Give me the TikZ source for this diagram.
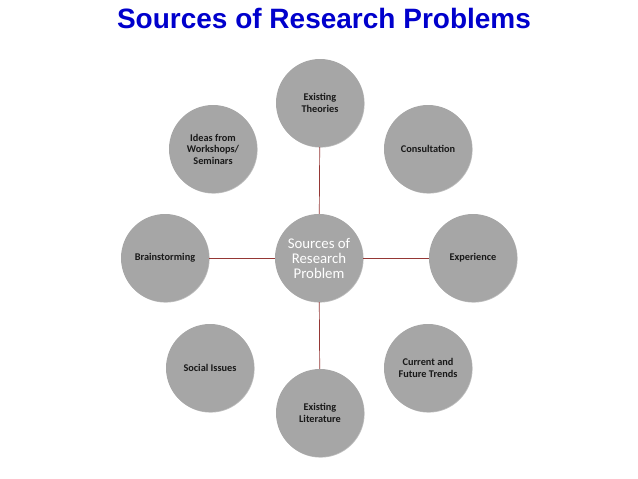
\documentclass[tikz,border=0pt]{standalone}
\usepackage{fontspec}
\setmainfont{Carlito}
\newfontfamily\titlefont{Liberation Sans}
\usetikzlibrary{shadows}
\definecolor{titleblue}{RGB}{0,0,204}
\definecolor{circgray}{RGB}{166,166,166}
\definecolor{linkred}{RGB}{149,55,53}
\definecolor{labeltext}{RGB}{25,25,25}
\tikzset{
  outer/.style={circle, fill=circgray, minimum size=88pt, inner sep=0pt, align=center,
    font=\fontsize{10.3}{11.5}\selectfont\bfseries, text=labeltext,
    drop shadow={shadow xshift=0.6pt, shadow yshift=-0.6pt, opacity=0.25, fill=black}},
  hub/.style={outer, font=\fontsize{14.8}{15}\selectfont, text=white},
  link/.style={draw=linkred, line width=0.7pt}
}
\begin{document}
\begin{tikzpicture}[x=1pt, y=-1pt]
\useasboundingbox (0,0) rectangle (638,479);
\node[font=\titlefont\fontsize{28}{32}\selectfont\bfseries, text=titleblue] (title) at (324,18) {Sources of Research Problems};
\node[hub] (c) at (319,258) {Sources of\\Research\\Problem};
\node[outer] (t) at (320,103) {Existing\\Theories};
\node[outer] (co) at (428,149) {Consultation};
\node[outer] (e) at (473,258) {Experience};
\node[outer] (cf) at (428,368) {Current and\\Future Trends};
\node[outer] (l) at (320,413) {Existing\\Literature};
\node[outer] (s) at (210,368) {Social Issues};
\node[outer] (b) at (165,258) {Brainstorming};
\node[outer] (w) at (213,149) {Ideas from\\Workshops/\\Seminars};
\draw[link] (c) -- (t);
\draw[link] (c) -- (e);
\draw[link] (c) -- (l);
\draw[link] (c) -- (b);
\end{tikzpicture}
\end{document}
